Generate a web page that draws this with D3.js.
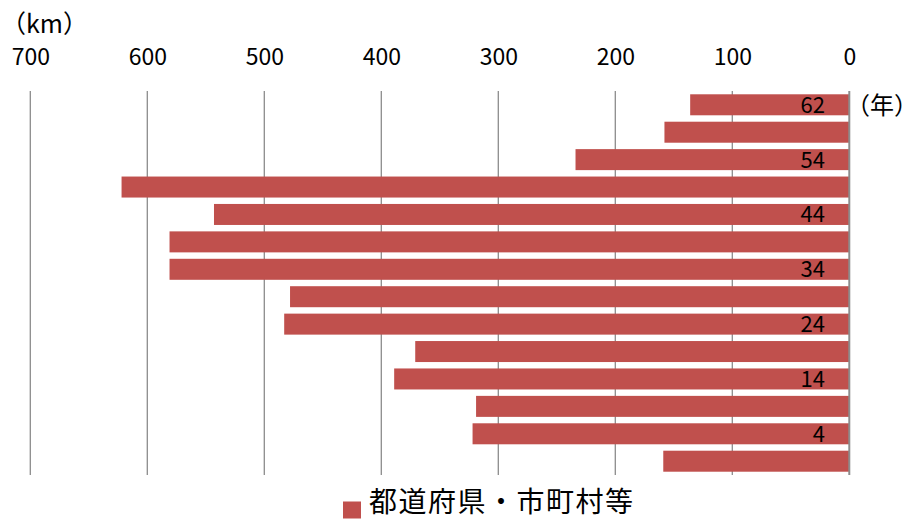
<!DOCTYPE html>
<html><head><meta charset="utf-8">
<script src="https://cdn.jsdelivr.net/npm/d3@7"></script>
<style>
html,body{margin:0;padding:0;background:#fff;}
svg text{font-family:"Noto Sans CJK JP","Noto Sans",sans-serif;fill:#000;}
</style></head>
<body>
<svg id="chart" width="919" height="520"></svg>
<script>
const categories = ["62","58","54","49","44","39","34","29","24","19","14","9","4","元"];
const shownLabels = ["62","54","44","34","24","14","4"];
const values = [136, 158, 234, 622, 543, 581, 581, 478, 483, 371, 389, 319, 322, 159];
const xTicks = [700, 600, 500, 400, 300, 200, 100, 0];
const seriesName = "都道府県・市町村等";
const xUnit = "（km）";
const yUnit = "（年）";
const barColor = "#C0504D";

const svg = d3.select("#chart");
const x = d3.scaleLinear().domain([0, 700]).range([849.3, 30.3]);
const y = d3.scaleBand().domain(categories).range([91, 475]).paddingInner(0.234).paddingOuter(0.12);

// gridlines
svg.append("g").selectAll("line").data(xTicks.filter(d => d !== 0)).join("line")
  .attr("x1", d => x(d)).attr("x2", d => x(d))
  .attr("y1", 91).attr("y2", 475)
  .attr("stroke", "#8c8c8c").attr("stroke-width", 1.3);

// bars
svg.append("g").selectAll("rect").data(categories).join("rect")
  .attr("x", (d, i) => x(values[i]))
  .attr("y", d => y(d))
  .attr("width", (d, i) => x(0) - x(values[i]))
  .attr("height", y.bandwidth())
  .attr("fill", barColor);

// zero axis line
svg.append("line")
  .attr("x1", x(0)).attr("x2", x(0)).attr("y1", 91).attr("y2", 475)
  .attr("stroke", "#8c8c8c").attr("stroke-width", 2);

// top axis labels
const ax = svg.append("g").attr("transform", "translate(0,65)")
  .call(d3.axisTop(x).tickValues(xTicks).tickSize(0).tickPadding(0));
ax.select(".domain").remove();
ax.selectAll("text").style("font-size", "23px").attr("fill", "#000")
  .style("font-family", "'Noto Sans CJK JP','Noto Sans',sans-serif");

// category labels inside bars
svg.append("g").selectAll("text").data(categories.filter(c => shownLabels.includes(c))).join("text")
  .attr("x", 825).attr("y", d => y(d) + y.bandwidth() / 2)
  .attr("dy", "0.36em").attr("text-anchor", "end")
  .style("font-size", "22px").text(d => d);

// units
svg.append("text").attr("x", 1).attr("y", 33).style("font-size", "25px").text(xUnit);
svg.append("text").attr("x", 846).attr("y", y(categories[0]) + y.bandwidth() / 2)
  .attr("dy", "0.38em").style("font-size", "24px").text(yUnit);

// legend
svg.append("rect").attr("x", 343).attr("y", 501.5).attr("width", 18).attr("height", 17).attr("fill", barColor);
svg.append("text").attr("x", 369).attr("y", 512).style("font-size", "28px")
  .style("letter-spacing", "1.5px").text(seriesName);
</script>
</body></html>
